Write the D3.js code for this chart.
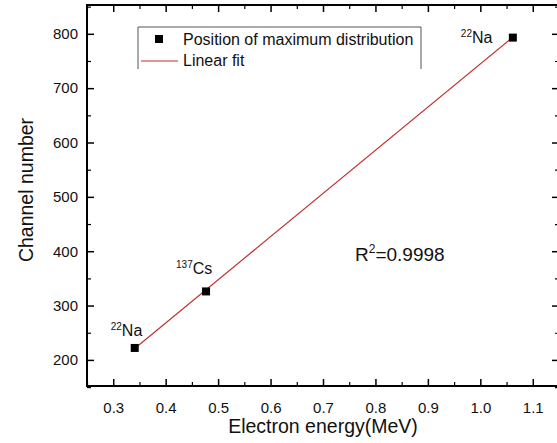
<!DOCTYPE html>
<html><head><meta charset="utf-8">
<script src="https://cdn.jsdelivr.net/npm/d3@7"></script>
<style>body{margin:0;background:#fff}svg{display:block;font-family:"Liberation Sans",Arial,sans-serif}</style>
</head><body>
<svg id="c" width="557" height="443"></svg>
<script>
const sources = ["22Na", "137Cs", "22Na"];
const energies = [0.341, 0.477, 1.062];
const channels = [222, 326, 793];
const fitX = [0.341, 1.062];
const fitY = [221, 794];
const xTicks = [0.3, 0.4, 0.5, 0.6, 0.7, 0.8, 0.9, 1.0, 1.1];
const yTicks = [200, 300, 400, 500, 600, 700, 800];
const legendLabels = ["Position of maximum distribution", "Linear fit"];
const r2Text = "0.9998";

const svg = d3.select("#c");
const L = 87, R = 559, T = 5, B = 386;
const x = d3.scaleLinear().domain([0.25, 1.15]).range([L, R]);
const y = d3.scaleLinear().domain([152, 853]).range([B, T]);
const xMinor = d3.range(0.25, 1.151, 0.05).map(v => +v.toFixed(2)).filter(v => !xTicks.some(t => Math.abs(t - v) < 1e-6));
const yMinor = d3.range(150, 851, 50).filter(v => !yTicks.includes(v));

function axis(gen, tr, scale, ticks, minor, showLabels) {
  const g = svg.append("g").attr("transform", tr);
  g.call(gen(scale).tickValues(ticks).tickSize(-7).tickPadding(showLabels ? 14 : 0)
     .tickFormat(showLabels ? (d => (d < 10 ? d3.format(".1f")(d) : d)) : ""));
  g.select(".domain").remove();
  g.selectAll(".tick line").attr("stroke", "#000").attr("stroke-width", 1.5);
  g.selectAll(".tick text").attr("font-size", 15).attr("fill", "#111");
  const gm = svg.append("g").attr("transform", tr);
  gm.call(gen(scale).tickValues(minor).tickSize(-4).tickFormat(""));
  gm.select(".domain").remove();
  gm.selectAll(".tick line").attr("stroke", "#000").attr("stroke-width", 1.2);
  return g;
}
const gx = axis(d3.axisBottom, `translate(0,${B})`, x, xTicks, xMinor, true);
gx.selectAll(".tick text").attr("dy", "0.71em").attr("y", 16);
axis(d3.axisTop, `translate(0,${T})`, x, xTicks, xMinor, false);
const gy = axis(d3.axisLeft, `translate(${L},0)`, y, yTicks, yMinor, true);
gy.selectAll(".tick text").attr("x", -9);
axis(d3.axisRight, `translate(${R},0)`, y, yTicks, yMinor, false);

svg.append("rect").attr("x", L).attr("y", T).attr("width", R - L).attr("height", B - T)
  .attr("fill", "none").attr("stroke", "#000").attr("stroke-width", 2);

// fit line
svg.append("path").datum(fitX.map((v, i) => [v, fitY[i]]))
  .attr("d", d3.line().x(d => x(d[0])).y(d => y(d[1])))
  .attr("fill", "none").attr("stroke", "#c0302e").attr("stroke-width", 1.2);

// points
svg.selectAll("rect.pt").data(energies).join("rect").attr("class", "pt")
  .attr("x", d => x(d) - 4).attr("y", (d, i) => y(channels[i]) - 4)
  .attr("width", 8).attr("height", 8).attr("fill", "#000");

// source labels
const labelPos = [[-24, -12], [-30, -17], [-52, 5]];
sources.forEach((s, i) => {
  const m = s.match(/^(\d+)(\D+)$/);
  const t = svg.append("text").attr("x", x(energies[i]) + labelPos[i][0])
    .attr("y", y(channels[i]) + labelPos[i][1]).attr("font-size", 16).attr("fill", "#111");
  t.append("tspan").text(m[1]).attr("font-size", 10).attr("dy", -6);
  t.append("tspan").text(m[2]).attr("dy", 6);
});

// R^2
const rt = svg.append("text").attr("x", 355).attr("y", 261).attr("font-size", 19).attr("fill", "#111");
rt.append("tspan").text("R");
rt.append("tspan").text("2").attr("font-size", 12).attr("dy", -8);
rt.append("tspan").text("=" + r2Text).attr("dy", 8);

// legend
const lg = svg.append("g");
lg.append("path").attr("d", "M138,69V27H421V69").attr("fill", "none").attr("stroke", "#555").attr("stroke-width", 1);
lg.append("rect").attr("x", 155).attr("y", 35).attr("width", 8).attr("height", 8).attr("fill", "#000");
lg.append("line").attr("x1", 141).attr("x2", 178).attr("y1", 61).attr("y2", 61).attr("stroke", "#c0302e").attr("stroke-width", 1.2);
lg.selectAll("text").data(legendLabels).join("text")
  .attr("x", 183).attr("y", (d, i) => 45 + i * 21).attr("font-size", 16).attr("fill", "#111").text(d => d);

// axis titles
svg.append("text").attr("x", 323).attr("y", 433).attr("text-anchor", "middle").attr("font-size", 19.5).attr("fill", "#111").text("Electron energy(MeV)");
svg.append("text").attr("transform", "translate(33,190) rotate(-90)").attr("text-anchor", "middle").attr("font-size", 19.5).attr("fill", "#111").text("Channel number");
</script>
</body></html>
